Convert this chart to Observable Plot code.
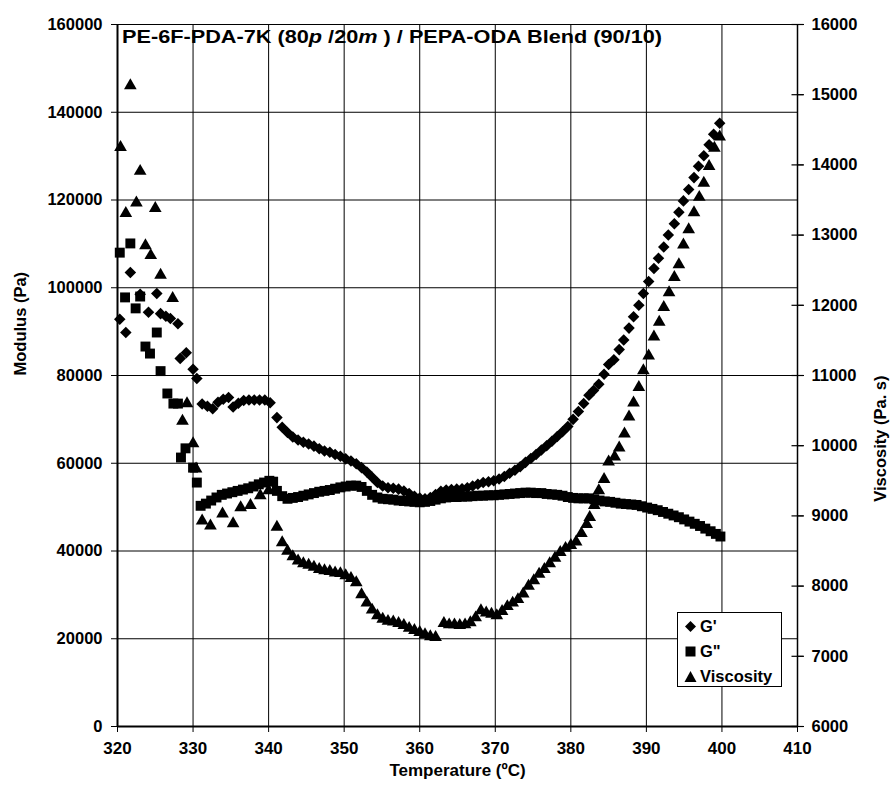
<!DOCTYPE html>
<html>
<head>
<meta charset="utf-8">
<script src="https://cdn.jsdelivr.net/npm/d3@7"></script>
<script src="https://cdn.jsdelivr.net/npm/@observablehq/plot@0.6"></script>
<style>
  html, body { margin: 0; padding: 0; background: #fff; }
  #wrap { position: relative; width: 892px; height: 789px; font-family: "Liberation Sans", Arial, sans-serif; }
  #title { position: absolute; left: 122px; top: 28px; font-size: 18.5px; font-weight: bold; line-height: 1; white-space: nowrap; color: #000; transform-origin: 0 0; }
  #legend { position: absolute; left: 677px; top: 612px; width: 103px; height: 73px; border: 1.5px solid #000; background: #fff; font-size: 16.5px; font-weight: bold; }
  .row { position: absolute; left: 0; height: 20px; display: flex; align-items: center; }
  .row svg { margin-left: 6px; margin-right: 3px; }
</style>
</head>
<body>
<div id="wrap">
  <div id="chart"></div>
  <div id="title">PE-6F-PDA-7K (80<i>p</i> /20<i>m</i> ) / PEPA-ODA Blend (90/10)</div>
  <div id="legend">
    <div class="row" style="top:3px"><svg width="13" height="13"><path d="M6.5,1 L12,6.5 L6.5,12 L1,6.5Z" fill="#000"/></svg><span>G'</span></div>
    <div class="row" style="top:28px"><svg width="13" height="13"><rect x="1.5" y="1.5" width="10" height="10" fill="#000"/></svg><span>G"</span></div>
    <div class="row" style="top:53px"><svg width="13" height="13"><path d="M6.5,1 L12.5,12 L0.5,12Z" fill="#000"/></svg><span>Viscosity</span></div>
  </div>
</div>
<script>
// ---- data ----
// G' (Pa)
const gpT = [320.3,321.1,321.7,323.0,324.1,325.2,325.7,326.4,327.0,328.0,328.3,329.1,330.0,330.5,331.2,331.9,332.6,333.3,334.0,334.7,335.3,336.0,336.7,337.4,338.1,338.8,339.5,340.2,341.1,341.8,342.5,343.2,343.9,344.6,345.3,346.0,346.7,347.4,348.1,348.8,349.5,350.2,350.9,351.6,352.3,353.0,353.7,354.4,355.1,355.8,356.5,357.2,357.9,358.6,359.3,360.0,360.7,361.4,362.1,362.8,363.5,364.2,364.9,365.6,366.3,367.0,367.7,368.4,369.1,369.8,370.5,371.2,371.9,372.6,373.3,374.0,374.7,375.4,376.1,376.8,377.5,378.2,378.9,379.6,380.3,381.0,381.7,382.4,383.0,383.7,384.4,385.0,385.7,386.4,387.0,387.7,388.3,389.0,389.6,390.3,391.0,391.6,392.3,392.9,393.7,394.3,394.9,395.6,396.3,396.9,397.6,398.3,398.9,399.7];
const gpV = [92800,89800,103500,98500,94400,98700,94100,93500,93000,91800,83900,85200,81400,79300,73500,73000,72400,73900,74600,75000,72800,73700,74300,74400,74400,74400,74400,73800,70400,68200,67000,66000,65300,64800,64400,63900,63300,62800,62500,62000,61600,61000,60500,59900,59000,58000,56800,55600,54800,54400,54300,54100,53700,53100,52500,52100,51900,52200,52900,53600,53900,54000,54100,54200,54400,54800,55200,55600,55800,56000,56400,57000,57700,58400,59200,60200,61100,62000,63000,64000,65000,66100,67200,68400,70000,71800,73600,75500,76600,78000,80300,82500,83600,85900,88100,90800,93400,96000,98700,101400,104400,106700,109300,112000,114600,117200,119800,122400,125100,127700,130100,132600,135000,137500];

// G" (Pa)
const gppT = [320.3,321.0,321.7,322.4,323.0,323.7,324.3,325.2,325.7,326.6,327.4,328.0,328.4,329.0,330.0,330.5,331.0,331.7,332.4,333.1,333.8,334.5,335.2,335.9,336.6,337.3,338.0,338.7,339.4,340.1,340.6,341.1,341.8,342.5,343.2,343.9,344.6,345.3,346.0,346.7,347.4,348.1,348.8,349.5,350.2,350.9,351.6,352.3,353.0,353.7,354.4,355.1,355.8,356.5,357.2,357.9,358.6,359.3,360.0,360.7,361.4,362.1,362.8,363.5,364.2,364.9,365.6,366.3,367.0,367.7,368.4,369.1,369.8,370.5,371.2,371.9,372.6,373.3,374.0,374.7,375.4,376.1,376.8,377.5,378.2,378.9,379.6,380.3,381.0,381.7,382.4,383.1,383.8,384.5,385.2,385.9,386.6,387.3,388.0,388.7,389.4,390.1,390.8,391.5,392.2,392.9,393.6,394.3,395.0,395.7,396.4,397.1,397.8,398.5,399.2,399.8];
const gppV = [108000,97800,110100,95300,98000,86600,85000,89800,81000,75900,73600,73600,61300,63400,59000,55600,50300,50800,51500,52200,52800,53100,53400,53700,54000,54300,54700,55200,55600,56000,55800,53700,52500,51900,52100,52300,52600,52900,53200,53500,53700,53900,54200,54500,54700,54900,54900,54600,53700,52800,52200,51900,51800,51700,51500,51400,51300,51200,51100,51200,51400,51700,52000,52200,52300,52300,52400,52400,52500,52600,52600,52700,52700,52800,52900,53000,53100,53200,53300,53300,53200,53200,53000,52900,52800,52600,52300,52100,52000,52000,52000,51800,51500,51300,51200,51000,50800,50700,50600,50500,50200,49900,49600,49300,48900,48500,48100,47700,47200,46700,46200,45700,45100,44500,43900,43300];

// Viscosity (Pa.s)
const viscT = [320.4,321.1,321.7,322.5,323.0,323.7,324.4,325.0,325.7,327.3,328.6,329.2,330.0,330.4,331.2,332.3,333.9,335.3,336.3,337.6,338.9,340.0,341.1,341.8,342.5,343.2,343.9,344.6,345.3,346.0,346.7,347.4,348.1,348.8,349.5,350.2,350.9,351.6,352.3,353.0,353.7,354.4,355.1,355.8,356.5,357.2,357.9,358.6,359.3,360.0,360.7,361.4,362.1,363.2,363.9,364.6,365.3,366.0,366.7,367.4,368.1,368.8,369.5,370.2,370.9,371.6,372.3,373.0,373.7,374.4,375.1,375.8,376.5,377.2,377.9,378.6,379.3,380.0,380.7,381.4,382.1,382.5,383.1,383.7,384.4,385.0,385.8,386.4,387.1,387.7,388.3,389.0,389.6,390.3,391.0,391.7,392.3,393.0,393.7,394.3,394.9,395.6,396.3,397.0,397.6,398.3,399.0,399.7];
const viscV = [14250,13310,15130,13460,13910,12850,12710,13380,12430,12100,10350,10600,10030,9670,8930,8860,9030,8890,9120,9150,9290,9360,8840,8620,8500,8420,8360,8320,8300,8270,8240,8220,8210,8190,8180,8150,8110,8050,7880,7760,7660,7580,7530,7500,7490,7470,7440,7400,7370,7340,7310,7280,7270,7470,7450,7450,7440,7450,7480,7550,7650,7620,7600,7580,7640,7710,7760,7810,7890,8000,8080,8170,8240,8320,8400,8480,8540,8580,8630,8750,8880,8980,9150,9360,9520,9770,9840,9970,10170,10410,10610,10830,11070,11280,11550,11760,11970,12180,12400,12580,12860,13080,13320,13540,13740,13980,14240,14400];

const xTicks = [320,330,340,350,360,370,380,390,400,410];
const yTicks = [0,20000,40000,60000,80000,100000,120000,140000,160000];
const rightTicks = [6000,7000,8000,9000,10000,11000,12000,13000,14000,15000,16000];

// ---- build tables ----
const gp = gpT.map((t, i) => ({t, v: gpV[i]}));
const gpp = gppT.map((t, i) => ({t, v: gppV[i]}));
const visc = viscT.map((t, i) => ({t, v: viscV[i]}));
// right axis (6000..16000) mapped onto left domain (0..160000)
const toLeft = v => (v - 6000) * 16;

const hline = {draw(ctx) { ctx.moveTo(-6, 0); ctx.lineTo(6, 0); }};
const font = "'Liberation Sans', Arial, sans-serif";

const chart = Plot.plot({
  width: 892,
  height: 789,
  marginLeft: 117,
  marginRight: 95,
  marginTop: 24,
  marginBottom: 63,
  style: {fontFamily: font, fontSize: "16.5px", fontWeight: "bold", color: "#000", background: "#fff"},
  x: {domain: [320, 410]},
  y: {domain: [0, 160000]},
  marks: [
    Plot.gridY(yTicks, {stroke: "#000", strokeOpacity: 1, strokeWidth: 1}),
    Plot.gridX(xTicks, {stroke: "#000", strokeOpacity: 1, strokeWidth: 1}),
    Plot.axisY(yTicks, {anchor: "left", tickSize: 6, tickPadding: 9, tickFormat: d => String(d), label: null, fontSize: 16.5}),
    Plot.axisX(xTicks, {anchor: "bottom", tickSize: 6, tickPadding: 9, tickFormat: d => String(d), label: null, fontSize: 17}),
    Plot.axisY(rightTicks.map(toLeft), {anchor: "right", tickSize: 6, tickPadding: 8, tickFormat: d => String(d / 16 + 6000), label: null, fontSize: 16.5}),
    Plot.dot(rightTicks, {x: 410, y: d => toLeft(d), symbol: hline, fill: "none", stroke: "#000", strokeWidth: 1.2}),
    Plot.ruleX([320], {stroke: "#000", strokeWidth: 2}),
    Plot.ruleX([410], {stroke: "#000", strokeWidth: 1.5}),
    Plot.ruleY([0], {stroke: "#000", strokeWidth: 2}),
    Plot.dot(gpp, {x: "t", y: "v", symbol: "square", r: 5.6, fill: "#000"}),
    Plot.dot(gp, {x: "t", y: "v", symbol: "square", rotate: 45, r: 4.6, fill: "#000"}),
    Plot.dot(visc, {x: "t", y: d => toLeft(d.v), symbol: "triangle", r: 4.7, fill: "#000"}),
    Plot.text(["Modulus (Pa)"], {frameAnchor: "left", dx: -97, rotate: -90, fontSize: 16.5, fontWeight: "bold"}),
    Plot.text(["Viscosity (Pa. s)"], {frameAnchor: "right", dx: 83, rotate: -90, fontSize: 16.5, fontWeight: "bold"}),
    Plot.text(["Temperature (ºC)"], {frameAnchor: "bottom", dy: 49, fontSize: 17, fontWeight: "bold"})
  ]
});
document.getElementById("chart").appendChild(chart);

// stretch the title to the width it occupies in the reference
const title = document.getElementById("title");
const w = title.getBoundingClientRect().width;
title.style.transform = `scaleX(${540 / w})`;
</script>
</body>
</html>
